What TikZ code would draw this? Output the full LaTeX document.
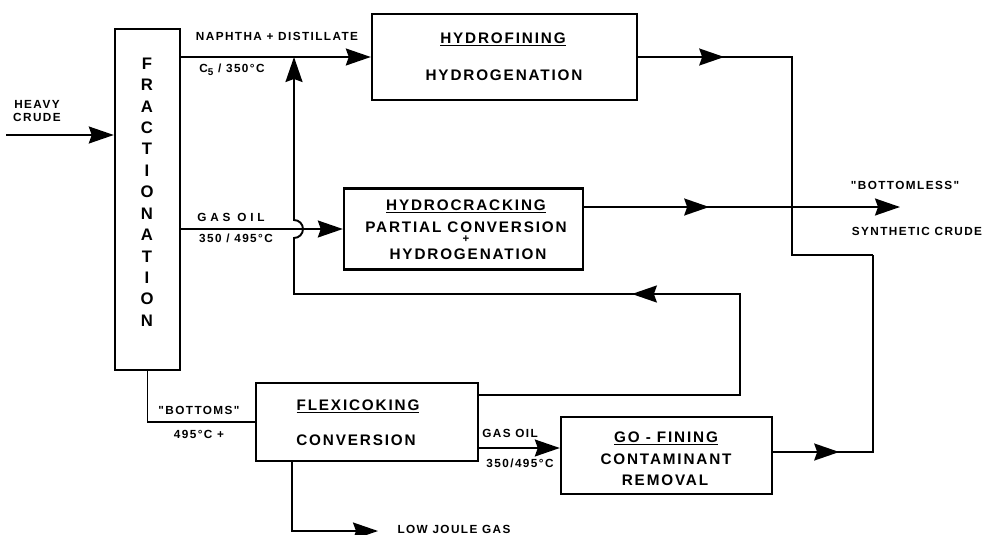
\documentclass[tikz,border=0pt]{standalone}
\usepackage{fontspec}
\newfontfamily\flowfont[LetterSpace=12]{Liberation Sans}
\newfontfamily\wideflowfont[LetterSpace=32]{Liberation Sans}
\usetikzlibrary{arrows.meta,decorations.markings}
\newcommand{\boxwd}{1.4pt}
\newcommand{\streamwd}{1.1pt}

\tikzset{
  >={Stealth[length=0.5cm,width=0.34cm,inset=0.06cm]},
  unit/.style={draw, line width=\boxwd, rectangle, inner sep=0pt},
  boxtext/.style={inner sep=0pt, anchor=base, font=\flowfont\bfseries\fontsize{8.7}{10}\selectfont},
  streamtext/.style={inner sep=0pt, anchor=base, font=\flowfont\bfseries\fontsize{6.7}{7.4}\selectfont},
  stream/.style={line width=\streamwd},
  midtip/.style={postaction={decorate}, decoration={markings, mark=at position #1 with {\arrow{>}}}}
}

\begin{document}
\begin{tikzpicture}[x=0.02cm, y=-0.02cm]
\useasboundingbox (0,0) rectangle (986,534);
% units
\node[unit, minimum width=1.3cm, minimum height=6.82cm] (frac) at (147.5,199.5) {};
\node[unit, minimum width=5.3cm, minimum height=1.72cm] (hydrofin) at (504.5,57) {};
\node[unit, minimum width=4.78cm, minimum height=1.62cm] (hydrocrack) at (463.5,229) {};
\node[unit, minimum width=4.44cm, minimum height=1.56cm] (flexi) at (367,422) {};
\node[unit, minimum width=4.22cm, minimum height=1.54cm] (gofin) at (666.5,455.5) {};
\node[inner sep=0pt, align=center, font=\bfseries\flowfont\fontsize{9.5}{12.2}\selectfont] (frac-t) at (147,192)
  {F\\R\\A\\C\\T\\I\\O\\N\\A\\T\\I\\O\\N};
\node[boxtext] (hydrofin-a) at (503,43) {\underline{HYDROFINING}};
\node[boxtext] (hydrofin-b) at (504,80) {HYDROGENATION};
\node[boxtext] (hydrocrack-a) at (466,210) {\underline{HYDROCRACKING}};
\node[boxtext] (hydrocrack-b) at (466,232) {PARTIAL CONVERSION};
\node[inner sep=0pt, font=\flowfont\bfseries\fontsize{6.5}{6.5}\selectfont] (hydrocrack-c) at (466,239.5) {+};
\node[boxtext] (hydrocrack-d) at (468,259) {HYDROGENATION};
\node[boxtext] (flexi-a) at (358,410) {\underline{FLEXICOKING}};
\node[boxtext] (flexi-b) at (356,445) {CONVERSION};
\node[boxtext] (gofin-a) at (666,442) {\underline{GO - FINING}};
\node[boxtext] (gofin-b) at (666,464) {CONTAMINANT};
\node[boxtext] (gofin-c) at (665,485) {REMOVAL};
% stream labels
\node[streamtext, anchor=center, align=center] (heavy) at (37,111) {HEAVY\\CRUDE};
\node[streamtext] (naph) at (277,40) {NAPHTHA + DISTILLATE};
\node[streamtext] (naph-cut) at (232,72) {C\raisebox{-2.2pt}{\fontsize{5.6}{6}\selectfont 5} / 350°C};
\node[streamtext, font=\wideflowfont\bfseries\fontsize{6.7}{7.4}\selectfont] (gasoil-a) at (231,221) {GAS OIL};
\node[streamtext] (gasoil-a-cut) at (236,242) {350 / 495°C};
\node[streamtext] (bottomless) at (905,189) {"BOTTOMLESS"};
\node[streamtext] (synth) at (917,235) {SYNTHETIC CRUDE};
\node[streamtext] (bottoms) at (199,414) {"BOTTOMS"};
\node[streamtext] (bottoms-cut) at (199,438) {495°C +};
\node[streamtext] (gasoil-b) at (510,437) {GAS OIL};
\node[streamtext] (gasoil-b-cut) at (520,467) {350/495°C};
\node[streamtext] (ljg) at (454,533) {LOW JOULE GAS};
% turning points
\coordinate (crude-in) at (6,135);
\coordinate (top-turn) at (792,57);
\coordinate (join) at (873,255);
\coordinate (go-turn) at (873,452);
\coordinate (sc-out) at (900,207);
\coordinate (rec-a) at (740,395);
\coordinate (rec-b) at (740,294);
\coordinate (rec-c) at (294,294);
\coordinate (hop) at (294,238);
\coordinate (naph-jn) at (294,57);
\coordinate (go-in) at (561,448);
\coordinate (ljg-turn) at (292,531);
\coordinate (ljg-out) at (378,531);
% streams
\draw[stream,->] (crude-in) -- (crude-in -| frac.west);
\draw[stream,->] (frac.east |- hydrofin.west) -- (hydrofin.west);
\draw[stream,->] (frac.east |- hydrocrack.west) -- (hydrocrack.west);
\draw[stream,midtip=1.72cm] (hydrofin.east) -- (top-turn) |- (join);
\draw[stream,midtip=1.32cm] (gofin.east |- go-turn) -- (go-turn) -- (join);
\draw[stream,->,midtip=2.5cm] (hydrocrack.east |- sc-out) -- (sc-out);
\draw[stream,->,midtip=9.4cm] (flexi.east |- rec-a) -- (rec-a) -- (rec-b) -- (rec-c) -- (hop)
  arc[start angle=-90, end angle=90, radius=0.18cm] -- (naph-jn);
\draw[stream] (frac.south) |- (flexi.west);
\draw[stream,->] (flexi.east |- go-in) -- (gofin.west |- go-in);
\draw[stream,->] (flexi.south -| ljg-turn) -- (ljg-turn) -- (ljg-out);
\end{tikzpicture}
\end{document}
